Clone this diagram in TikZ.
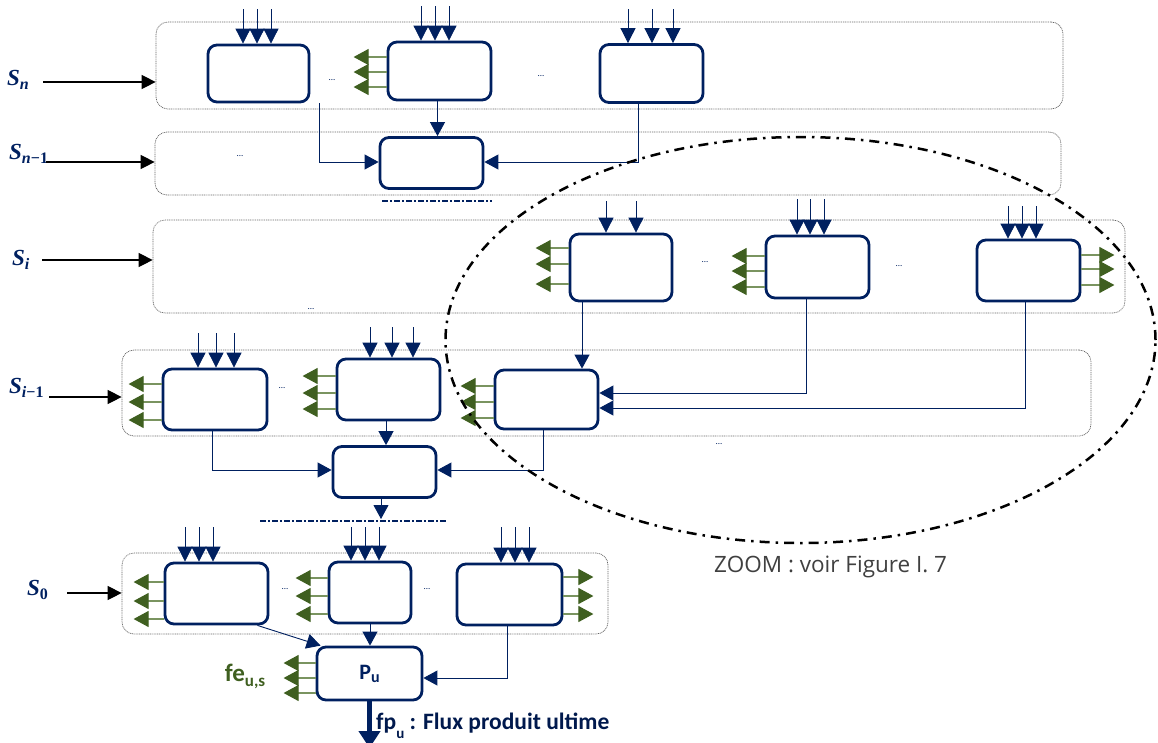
\documentclass[tikz,border=0pt]{standalone}
\usepackage{fontspec}
\setmainfont{Carlito}
\newfontfamily\lserif{Liberation Serif}
\newfontfamily\zoomfont{Open Sans}
\usetikzlibrary{arrows.meta,calc}
\definecolor{navy}{HTML}{002060}
\definecolor{grn}{HTML}{3F5F20}
\definecolor{grnl}{HTML}{7A9460}
\newcommand\Sl[1]{{\lserif\bfseries\itshape S}\raisebox{-4pt}{\lserif\bfseries\itshape\fontsize{16}{16}\selectfont #1}}
\begin{document}
\begin{tikzpicture}[x=1pt,y=-1pt,
 blk/.style={draw=navy, line width=2.8pt, rounded corners=9pt, fill=white, inner sep=0pt},
 grp/.style={draw=black!60, line width=0.7pt, dash pattern=on 1pt off 0.8pt, rounded corners=12pt, inner sep=0pt},
 inarr/.style={draw=navy, line width=0.8pt, -{Triangle[length=15pt,width=15pt]}},
 conn/.style={draw=navy, line width=0.9pt, -{Triangle[length=14pt,width=15pt]}},
 garr/.style={draw=grnl, line width=1.1pt, -{Triangle[length=15pt,width=16pt,color=grn]}},
 sarr/.style={draw=black, line width=1.1pt, -{Triangle[length=14pt,width=14pt]}},
 dots/.style={navy, font=\fontsize{9}{9}\selectfont, inner sep=0pt},
 slab/.style={navy, font=\fontsize{23}{24}\selectfont, inner sep=0pt, anchor=west},
 ddot/.style={navy, line width=1.2pt, dash pattern=on 6pt off 2pt on 2pt off 2pt},
 ellip/.style={black, line width=2.5pt, dash pattern=on 10pt off 6pt on 2.5pt off 6pt},
]
\useasboundingbox (0,0) rectangle (1158,742);

% groups (stages)
\node[grp, minimum width=907pt, minimum height=87pt] (Gn)  at (609.5,65.5) {};
\node[grp, minimum width=906pt, minimum height=63pt] (Gn1) at (608,163.5) {};
\node[grp, minimum width=972pt, minimum height=93pt] (Gi)  at (639,266.5) {};
\node[grp, minimum width=969pt, minimum height=86pt] (Gi1) at (606.5,393) {};
\node[grp, minimum width=486pt, minimum height=81pt] (G0)  at (365,593.5) {};

% stage labels
\node[slab] (Sn)  at (7,80)   {\Sl{n}};
\node[slab] (Sn1) at (9,154) {\Sl{n{\upshape −1}}};
\node[slab] (Si)  at (12,260) {\Sl{i}};
\node[slab] (Si1) at (9,388) {\Sl{i{\upshape −1}}};
\node[slab] (S0)  at (27,590) {\Sl{\upshape 0}};
\draw[sarr] (43,82) -- (Gn.west |- 0,82);
\draw[sarr] (46,162) -- (Gn1.west |- 0,162);
\draw[sarr] (42,260) -- (Gi.west |- 0,260);
\draw[sarr] (49,397) -- (Gi1.west |- 0,397);
\draw[sarr] (67,593) -- (G0.west |- 0,593);

% blocks
\node[blk, minimum width=101pt, minimum height=57pt] (A1) at (258.5,73.5) {};
\node[blk, minimum width=103pt, minimum height=58pt] (A2) at (439.5,71) {};
\node[blk, minimum width=103pt, minimum height=58pt] (A3) at (651.5,73.5) {};
\node[blk, minimum width=103pt, minimum height=51pt] (B)  at (431.5,163) {};
\node[blk, minimum width=102pt, minimum height=67pt] (C1) at (621,267.5) {};
\node[blk, minimum width=103pt, minimum height=62pt] (C2) at (817.5,267) {};
\node[blk, minimum width=103pt, minimum height=61pt] (C3) at (1028.5,270.5) {};
\node[blk, minimum width=104pt, minimum height=61pt] (D1) at (215,399.5) {};
\node[blk, minimum width=103pt, minimum height=61pt] (D2) at (388.5,389.5) {};
\node[blk, minimum width=103pt, minimum height=59pt] (D3) at (546.5,399.5) {};
\node[blk, minimum width=103pt, minimum height=51pt] (E)  at (384.5,472) {};
\node[blk, minimum width=103pt, minimum height=61pt] (F1) at (216.5,593.5) {};
\node[blk, minimum width=82pt,  minimum height=61pt] (F2) at (370,592.5) {};
\node[blk, minimum width=105pt, minimum height=61pt] (F3) at (509.5,594.5) {};
\node[blk, minimum width=105pt, minimum height=53pt, font=\bfseries\fontsize{22}{23}\selectfont, text=navy] (Pu) at (369.5,673.5) {P\raisebox{-3pt}{\fontsize{16}{16}\selectfont u}};

% inputs on top
\foreach \x in {243,257,271} \draw[inarr] (\x,9) -- (\x,0 |- A1.north);
\foreach \x in {421,435,449} \draw[inarr] (\x,6) -- (\x,0 |- A2.north);
\foreach \x in {628,652,673} \draw[inarr] (\x,9) -- (\x,0 |- A3.north);
\foreach \x in {606,636} \draw[inarr] (\x,201) -- (\x,0 |- C1.north);
\foreach \x in {797,810,824} \draw[inarr] (\x,199) -- (\x,0 |- C2.north);
\foreach \x in {1008,1022,1036} \draw[inarr] (\x,206) -- (\x,0 |- C3.north);
\foreach \x in {198,216,234} \draw[inarr] (\x,333) -- (\x,0 |- D1.north);
\foreach \x in {370,392,413} \draw[inarr] (\x,327) -- (\x,0 |- D2.north);
\foreach \x in {185,199,213} \draw[inarr] (\x,527) -- (\x,0 |- F1.north);
\foreach \x in {351,365,379} \draw[inarr] (\x,527) -- (\x,0 |- F2.north);
\foreach \x in {501,515,529} \draw[inarr] (\x,527) -- (\x,0 |- F3.north);

% green side outputs
\foreach \y in {57,72,87} \draw[garr] (A2.west |- 0,\y) -- ++(-33,0);
\foreach \y in {248,264,284} \draw[garr] (C1.west |- 0,\y) -- ++(-33,0);
\foreach \y in {256,271,287} \draw[garr] (C2.west |- 0,\y) -- ++(-33,0);
\foreach \y in {255,269,285} \draw[garr] (C3.east |- 0,\y) -- ++(33,0);
\foreach \y in {384,402,420} \draw[garr] (D1.west |- 0,\y) -- ++(-33,0);
\foreach \y in {376,393,409} \draw[garr] (D2.west |- 0,\y) -- ++(-33,0);
\foreach \y in {386,402,418} \draw[garr] (D3.west |- 0,\y) -- ++(-33,0);
\foreach \y in {582,601,619} \draw[garr] (F1.west |- 0,\y) -- ++(-30,0);
\foreach \y in {578,596,614} \draw[garr] (F2.west |- 0,\y) -- ++(-32,0);
\foreach \y in {577,596,614} \draw[garr] (F3.east |- 0,\y) -- ++(30,0);
\foreach \y in {663,678,693} \draw[garr] (Pu.west |- 0,\y) -- ++(-32,0);

% connectors
\draw[conn] (319,0 |- A1.south) |- (B.west |- 0,162);
\draw[conn] (437.5,0 |- A2.south) -- (437.5,0 |- B.north);
\draw[conn] (638,0 |- A3.south) |- (B.east |- 0,162);
\draw[conn] (582,0 |- C1.south) -- (582,0 |- D3.north);
\draw[conn] (806,0 |- C2.south) |- (D3.east |- 0,393);
\draw[conn] (1025,0 |- C3.south) |- (D3.east |- 0,408);
\draw[conn] (386,0 |- D2.south) -- (386,0 |- E.north);
\draw[conn] (212,0 |- D1.south) |- (E.west |- 0,470);
\draw[conn] (543,0 |- D3.south) |- (E.east |- 0,470);
\coordinate (Eout) at (381,519);
\draw[conn] (381,0 |- E.south) -- (Eout);
\draw[conn] ([xshift=-12pt]F1.south east) -- ([xshift=5pt]Pu.north west);
\draw[conn] (370,0 |- F2.south) -- (370,0 |- Pu.north);
\draw[conn] (507,0 |- F3.south) |- (Pu.east |- 0,678);
\coordinate (Pout) at (369.5,748);
\draw[navy, line width=4.5pt, -{Triangle[length=17pt,width=21pt]}] (Pu.south) -- (Pout);

% dash-dot separators
\draw[ddot] (382,201) -- (492,201);
\draw[ddot] (260,521) -- (446,521);

% dots
\node[dots] (d1) at (332,80) {...};
\node[dots] (d2) at (541,76) {...};
\node[dots] (d3) at (240,156) {...};
\node[dots] (d4) at (311,309) {...};
\node[dots] (d5) at (705,262) {...};
\node[dots] (d6) at (899,266) {...};
\node[dots] (d7) at (282,388) {...};
\node[dots] (d8) at (719,444) {...};
\node[dots] (d9) at (285,589) {...};
\node[dots] (d10) at (427,589) {...};

% zoom ellipse
\draw[ellip] (800.5,340) ellipse [x radius=355pt, y radius=203pt];
\node[anchor=west, text=black!75, font=\zoomfont\fontsize{22.5}{24}\selectfont, inner sep=0pt] (zt) at (714,567) {ZOOM : voir Figure I. 7};

% texts
\node[anchor=center, text=grn, font=\bfseries\fontsize{25}{26}\selectfont, inner sep=0pt] (fe) at (245,676) {fe\raisebox{-5pt}{\fontsize{17}{17}\selectfont u,s}};
\node[anchor=west, text=navy!80!black, font=\bfseries\fontsize{23.5}{25}\selectfont, inner sep=0pt] (fp) at (376,726) {fp\raisebox{-9pt}{\fontsize{15}{15}\selectfont u} : Flux produit ultime};
\end{tikzpicture}
\end{document}
